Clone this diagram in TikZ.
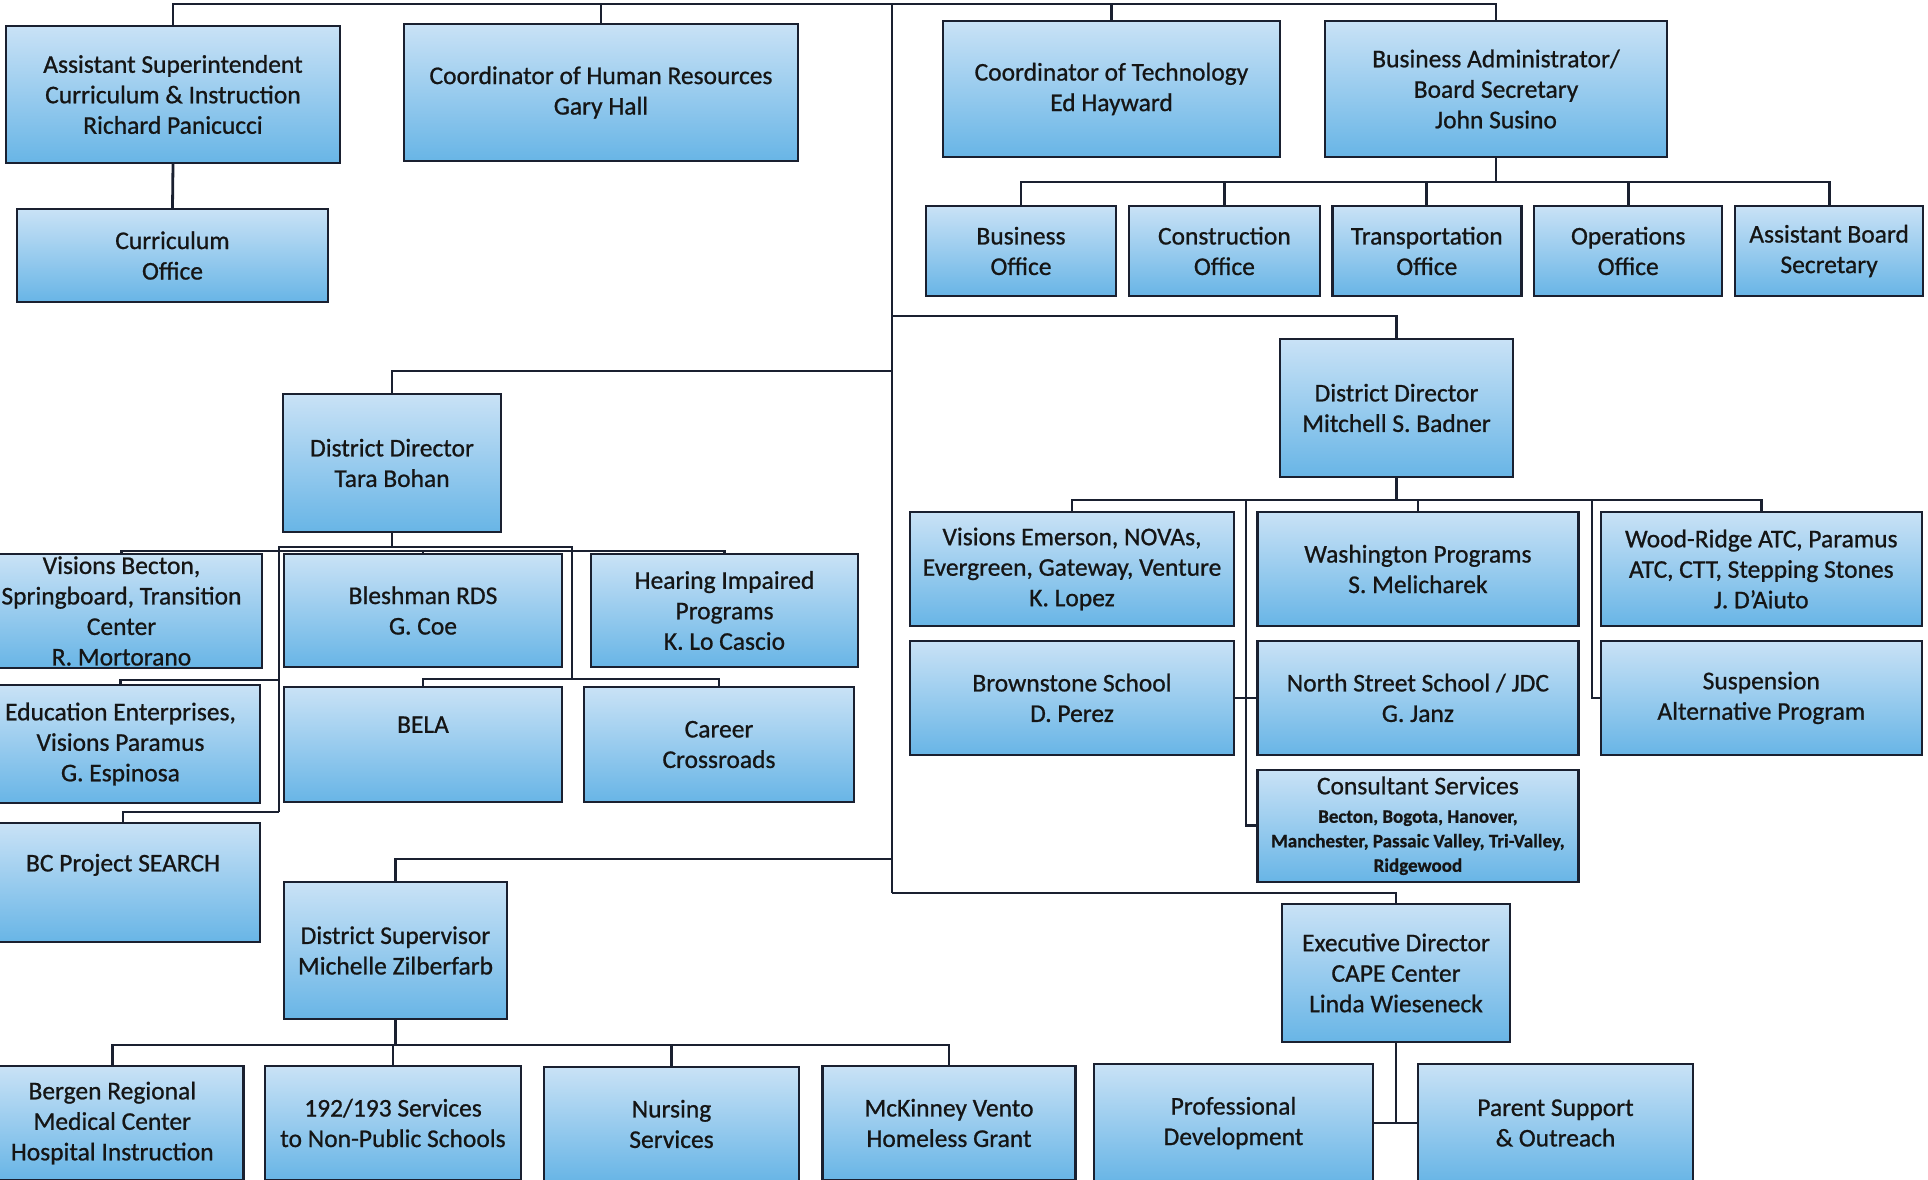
\documentclass[tikz,border=0pt]{standalone}
\usepackage{fontspec}
\setmainfont{Carlito}[FakeBold=0.8]
\usetikzlibrary{positioning,calc}
\definecolor{boxtop}{HTML}{C9E2F6}
\definecolor{boxbottom}{HTML}{68B5E6}
\definecolor{rule}{HTML}{1A2030}
\definecolor{ink}{HTML}{151515}
\newcommand\orgfont{\fontsize{25.5}{30.5}\selectfont}
\newcommand\listfont{\fontsize{19}{24}\selectfont\bfseries}

\begin{document}
\begin{tikzpicture}[x=1pt,y=-1pt,
			unit/.style={draw=rule,line width=2.4pt,top color=boxtop,bottom color=boxbottom,inner sep=0pt,align=center,text=ink,font=\orgfont},
			link/.style={draw=rule,line width=2.8pt}
			]
			\fill[white] (0,0) rectangle (1928,1180);
			\useasboundingbox (0,0) rectangle (1928,1180);
			\clip (0,0) rectangle (1928,1180);
			% top row
			\node[unit,minimum width=334pt,minimum height=137pt] (asst) at (173,94.5) {Assistant Superintendent\\ Curriculum \& Instruction\\ Richard Panicucci};
			\node[unit,minimum width=311pt,minimum height=93pt] (curr) at (172.5,255.5) {Curriculum\\ Office};
			\node[unit,minimum width=394pt,minimum height=137pt] (hr) at (601,92.5) {Coordinator of Human Resources\\ Gary Hall};
			\node[unit,minimum width=337pt,minimum height=136pt] (tech) at (1111.5,89) {Coordinator of Technology\\ Ed Hayward};
			\node[unit,minimum width=342pt,minimum height=136pt] (busadm) at (1496,89) {Business Administrator/\\ Board Secretary\\ John Susino};
			% business offices
			\node[unit,minimum width=190pt,minimum height=90pt] (busoff) at (1021,251) {Business\\ Office};
			\node[unit,minimum width=191pt,minimum height=90pt] (constr) [right=10.5pt of busoff] {Construction\\ Office};
			\node[unit,minimum width=189pt,minimum height=90pt] (transp) [right=10pt of constr] {Transportation\\ Office};
			\node[unit,minimum width=188pt,minimum height=90pt] (oper) [right=10.5pt of transp] {Operations\\ Office};
			\node[unit,minimum width=188pt,minimum height=90pt] (asstbs) [right=10.5pt of oper] {Assistant Board\\ Secretary};
			% Tara Bohan branch
			\node[unit,minimum width=218pt,minimum height=138pt] (tara) at (392,463) {District Director\\ Tara Bohan};
			\node[unit,minimum width=281pt,minimum height=114pt] (vbecton) at (121.5,611) {Visions Becton,\\ Springboard, Transition\\ Center\\ R. Mortorano};
			\node[unit,minimum width=278pt,minimum height=113pt] (bleshman) at (423,610.5) {Bleshman RDS\\ G. Coe};
			\node[unit,minimum width=267pt,minimum height=113pt] (hearing) at (724.5,610.5) {Hearing Impaired\\ Programs\\ K. Lo Cascio};
			\node[unit,minimum width=279pt,minimum height=118pt] (eduent) at (120.5,744) {Education Enterprises,\\ Visions Paramus\\ G. Espinosa};
			\node[unit,minimum width=278pt,minimum height=115pt] (bela) at (423,744.5) {BELA\\ \strut};
			\node[unit,minimum width=270pt,minimum height=115pt] (career) at (719,744.5) {Career\\ Crossroads};
			\node[unit,minimum width=274pt,minimum height=119pt] (bcsearch) at (123,882.5) {BC Project SEARCH\\ \strut};
			% Zilberfarb branch
			\node[unit,minimum width=223pt,minimum height=137pt] (zilber) at (395.5,950.5) {District Supervisor\\ Michelle Zilberfarb};
			\node[unit,minimum width=262pt,minimum height=114pt] (bergen) at (112.3,1123) {Bergen Regional\\ Medical Center\\ Hospital Instruction};
			\node[unit,minimum width=256pt,minimum height=114pt] (s192) at (393,1123) {192/193 Services\\ to Non-Public Schools};
			\node[unit,minimum width=255pt,minimum height=114pt] (nursing) at (671.5,1124) {Nursing\\ Services};
			\node[unit,minimum width=253pt,minimum height=114pt] (mckinney) at (949,1123) {McKinney Vento\\ Homeless Grant};
			% CAPE branch
			\node[unit,minimum width=228pt,minimum height=138pt] (execdir) at (1396,973) {Executive Director\\ CAPE Center\\ Linda Wieseneck};
			\node[unit,minimum width=279pt,minimum height=118pt] (profdev) at (1233.5,1123) {Professional\\ Development};
			\node[unit,minimum width=275pt,minimum height=118pt] (parent) at (1555.5,1123) {Parent Support\\ \& Outreach};
			% Badner branch
			\node[unit,minimum width=233pt,minimum height=138pt] (badner) at (1396.5,408) {District Director\\ Mitchell S. Badner};
			\node[unit,minimum width=324pt,minimum height=114pt] (vemerson) at (1072,569) {Visions Emerson, NOVAs,\\ Evergreen, Gateway, Venture\\ K. Lopez};
			\node[unit,minimum width=321pt,minimum height=114pt] (washington) [right=21pt of vemerson] {Washington Programs\\ S. Melicharek};
			\node[unit,minimum width=321pt,minimum height=114pt] (woodridge) [right=20pt of washington] {Wood-Ridge ATC, Paramus\\ ATC, CTT, Stepping Stones\\ J. D’Aiuto};
			\node[unit,minimum width=324pt,minimum height=114pt] (brownstone) [below=12.5pt of vemerson] {Brownstone School\\ D. Perez};
			\node[unit,minimum width=321pt,minimum height=114pt] (northst) [below=12.5pt of washington] {North Street School / JDC\\ G. Janz};
			\node[unit,minimum width=321pt,minimum height=114pt] (suspension) [below=12.5pt of woodridge] {Suspension\\ Alternative Program};
			\node[unit,minimum width=321pt,minimum height=112pt] (consult) [below=12.5pt of northst] {Consultant Services\\[-2pt] \listfont Becton, Bogota, Hanover,\\[-6pt] \listfont Manchester, Passaic Valley, Tri-Valley,\\[-6pt] \listfont Ridgewood};
			% junctions
			\coordinate (jtop) at (892,4);
			\coordinate (jbad) at (892,316);
			\coordinate (jtara) at (892,371);
			\coordinate (jzil) at (892,859);
			\coordinate (jexec) at (892,893);
			\coordinate (busbar) at (0,182);
			\coordinate (tbrk) at (0,547);
			\coordinate (tbar) at (0,551);
			\coordinate (lspine) at (279,547);
			\coordinate (rspine) at (572,547);
			\coordinate (ledu) at (279,680);
			\coordinate (lfoot) at (279,812);
			\coordinate (rfoot) at (572,679);
			\coordinate (bbar) at (0,500);
			\coordinate (cspine) at (1246,500);
			\coordinate (sspine) at (1592,500);
			\coordinate (zbar) at (0,1045);
			% connectors
			\draw[link] (asst.north) |- (busadm.north |- jtop) -- (busadm.north);
			\draw[link] (hr.north) -- (hr.north |- jtop);
			\draw[link] (tech.north) -- (tech.north |- jtop);
			\draw[link] (jtop) -- (jexec);
			\draw[link] (asst.south) -- (curr.north);
			\draw[link] (busadm.south) -- (busadm.south |- busbar);
			\draw[link] (busoff.north) |- (asstbs.north |- busbar) -- (asstbs.north);
			\foreach \n in {constr,transp,oper}
				\draw[link] (\n.north) -- (\n.north |- busbar);
			\draw[link] (jtara) -| (tara.north);
			\draw[link] (tara.south) -- (tara.south |- tbrk);
			\draw[link] (vbecton.north) |- (hearing.north |- tbar) -- (hearing.north);
			\draw[link] (bleshman.north) -- (bleshman.north |- tbar);
			\draw[link] (lfoot) -- (lspine) -- (rspine) -- (rfoot);
			\draw[link] (eduent.north) |- (ledu);
			\draw[link] (bcsearch.north) |- (lfoot);
			\draw[link] (bela.north) |- (career.north |- rfoot) -- (career.north);
			\draw[link] (jzil) -| (zilber.north);
			\draw[link] (zilber.south) -- (zilber.south |- zbar);
			\draw[link] (bergen.north) |- (mckinney.north |- zbar) -- (mckinney.north);
			\foreach \n in {s192,nursing}
				\draw[link] (\n.north) -- (\n.north |- zbar);
			\draw[link] (jexec) -| (execdir.north);
			\draw[link] (execdir.south) -- (execdir.south |- profdev.east);
			\draw[link] (profdev.east) -- (parent.west);
			\draw[link] (jbad) -| (badner.north);
			\draw[link] (badner.south) -- (badner.south |- bbar);
			\draw[link] (vemerson.north) |- (woodridge.north |- bbar) -- (woodridge.north);
			\draw[link] (washington.north) -- (washington.north |- bbar);
			\draw[link] (cspine) |- (consult.west);
			\draw[link] (brownstone.east) -- (northst.west);
			\draw[link] (sspine) |- (suspension.west);
		\end{tikzpicture}
\end{document}
